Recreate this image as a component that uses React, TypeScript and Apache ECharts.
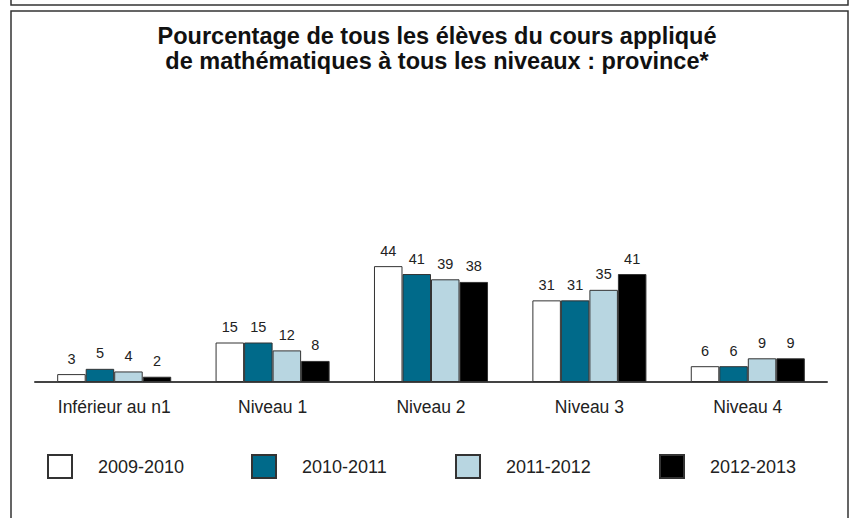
import React, { useEffect, useRef } from "react";
import * as echarts from "echarts";

const categories = ["Inférieur au n1", "Niveau 1", "Niveau 2", "Niveau 3", "Niveau 4"];
const seriesNames = ["2009-2010", "2010-2011", "2011-2012", "2012-2013"];
const values2009 = [3, 15, 44, 31, 6];
const values2010 = [5, 15, 41, 31, 6];
const values2011 = [4, 12, 39, 35, 9];
const values2012 = [2, 8, 38, 41, 9];
const titleLines = [
  "Pourcentage de tous les élèves du cours appliqué",
  "de mathématiques à tous les niveaux : province*",
];

const colors = ["#ffffff", "#006a8a", "#b8d6e1", "#000000"];
const allValues = [values2009, values2010, values2011, values2012];
const FONT = "Liberation Sans, Arial, Helvetica, sans-serif";

export default function App() {
  const ref = useRef<HTMLDivElement>(null);
  useEffect(() => {
    if (!ref.current) return;
    const chart = echarts.init(ref.current, undefined, { renderer: "svg" });
    const legendX = [42, 246, 450, 654];
    chart.setOption({
      animation: false,
      backgroundColor: "#ffffff",
      textStyle: { fontFamily: FONT },
      grid: { left: 35, right: 26, top: 224, height: 158, containLabel: false },
      xAxis: {
        type: "category",
        data: categories,
        axisLine: { show: true, lineStyle: { color: "#444", width: 2 } },
        axisTick: { show: false },
        axisLabel: { color: "#222", fontSize: 17.5, margin: 16, fontFamily: FONT },
      },
      yAxis: {
        type: "value",
        min: 0,
        max: 60,
        show: false,
        splitLine: { show: false },
      },
      legend: seriesNames.map((n, i) => ({
        data: [n],
        left: legendX[i],
        top: 449,
        itemWidth: 24,
        itemHeight: 23,
        icon: "rect",
        selectedMode: false,
        textStyle: { fontSize: 18, color: "#222", padding: [0, 0, 0, 21], fontFamily: FONT },
      })),
      series: seriesNames.map((n, i) => ({
        name: n,
        type: "bar",
        data: allValues[i],
        barGap: "0%",
        barCategoryGap: "28%",
        itemStyle: { color: colors[i], borderColor: "#333", borderWidth: 1 },
        label: {
          show: true,
          position: "top",
          distance: 8,
          color: "#222",
          fontSize: 14.5,
          fontFamily: FONT,
        },
      })),
      graphic: [
        {
          type: "rect",
          shape: { x: 11, y: -20, width: 837, height: 25 },
          style: { fill: "none", stroke: "#333", lineWidth: 1.5 },
          silent: true,
        },
        {
          type: "rect",
          shape: { x: 11, y: 11, width: 837, height: 530 },
          style: { fill: "none", stroke: "#333", lineWidth: 1.5 },
          silent: true,
        },
        ...titleLines.map((t, i) => ({
          type: "text",
          x: 437,
          y: 36 + i * 25,
          style: {
            text: t,
            fill: "#111",
            font: `bold 23.5px ${FONT}`,
            textAlign: "center",
            textVerticalAlign: "middle",
          },
        })),
      ],
    });
    return () => chart.dispose();
  }, []);
  return (
    <div
      ref={ref}
      style={{ position: "absolute", left: 0, top: 0, width: 853, height: 518 }}
    />
  );
}
